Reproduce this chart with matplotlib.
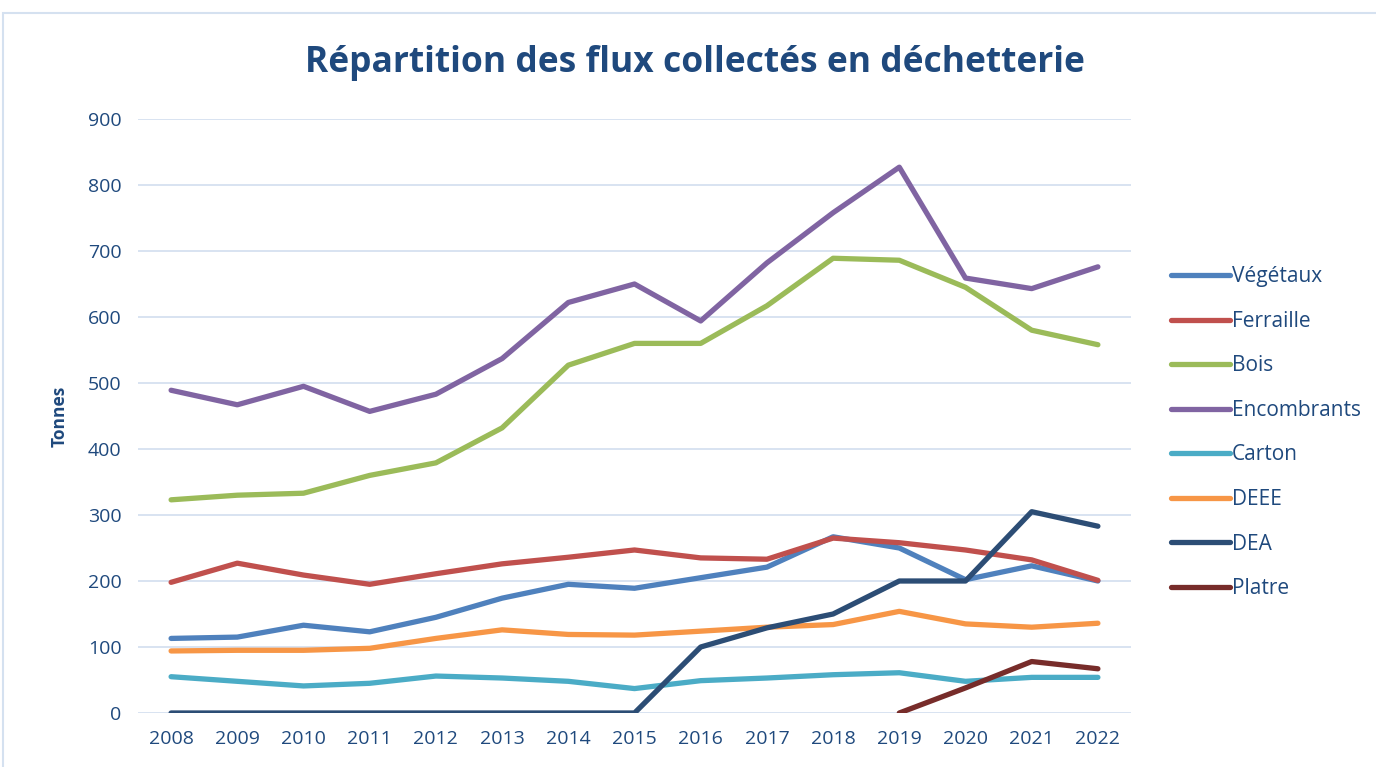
import numpy as np
import matplotlib.pyplot as plt
from matplotlib.patches import Rectangle

years = [str(y) for y in range(2008, 2023)]

vegetaux = [113, 115, 133, 123, 145, 174, 195, 189, 205, 221, 267, 250, 202, 223, 200]
ferraille = [198, 227, 209, 195, 211, 226, 236, 247, 235, 233, 265, 258, 247, 232, 201]
bois = [323, 330, 333, 360, 379, 432, 527, 560, 560, 617, 689, 686, 645, 580, 558]
encombrants = [489, 467, 495, 457, 483, 537, 622, 650, 594, 682, 758, 827, 659, 643, 676]
carton = [55, 48, 41, 45, 56, 53, 48, 37, 49, 53, 58, 61, 48, 54, 54]
deee = [94, 95, 95, 98, 113, 126, 119, 118, 124, 130, 134, 154, 135, 130, 136]
dea = [0, 0, 0, 0, 0, 0, 0, 0, 100, 129, 150, 200, 200, 305, 283]
platre = [np.nan] * 11 + [0, 38, 78, 67]

series = [
    ("Végétaux", vegetaux, "#4F81BD"),
    ("Ferraille", ferraille, "#C0504D"),
    ("Bois", bois, "#9BBB59"),
    ("Encombrants", encombrants, "#8064A2"),
    ("Carton", carton, "#4BACC6"),
    ("DEEE", deee, "#F79646"),
    ("DEA", dea, "#2C4D75"),
    ("Platre", platre, "#772C2A"),
]

plt.rcParams['font.family'] = ['Open Sans', 'DejaVu Sans']
text_col = "#1F497D"

fig = plt.figure(figsize=(13.76, 7.67), dpi=100)
ax = fig.add_axes([138 / 1376, 1 - 713 / 767, (1131 - 138) / 1376, (713 - 119) / 767])

x = np.arange(len(years))
for name, vals, col in series:
    ax.plot(x, vals, color=col, lw=3.8, label=name, solid_capstyle="round")

ax.set_xlim(-0.5, len(years) - 0.5)
ax.set_ylim(0, 900)
ax.set_yticks(range(0, 901, 100))
ax.set_xticks(x)
ax.set_xticklabels(years)
ax.grid(axis="y", color="#D5E1F0", lw=1.3)
ax.set_axisbelow(True)
for s in ax.spines.values():
    s.set_visible(False)
ax.tick_params(length=0, labelsize=14, colors=text_col, pad=12)
ax.set_ylabel("Tonnes", fontsize=12.5, fontweight="bold", color=text_col, labelpad=14)

fig.text(0.505, 0.918, "Répartition des flux collectés en déchetterie",
         ha="center", va="center", fontsize=25.5, fontweight="bold", color=text_col)

leg = ax.legend(loc="upper left", bbox_to_anchor=(1163 / 1376, 1 - 258 / 767),
                bbox_transform=fig.transFigure, frameon=False, fontsize=15,
                handlelength=2.8, handletextpad=0.1, labelspacing=1.13,
                borderaxespad=0)
for t in leg.get_texts():
    t.set_color(text_col)

fig.patches.append(Rectangle((3 / 1376, -0.01), 1.0, 1 - 13 / 767 + 0.01,
                             transform=fig.transFigure, fill=False,
                             edgecolor="#D5E1F0", lw=1.5))

fig.savefig("out.png", dpi=100)
